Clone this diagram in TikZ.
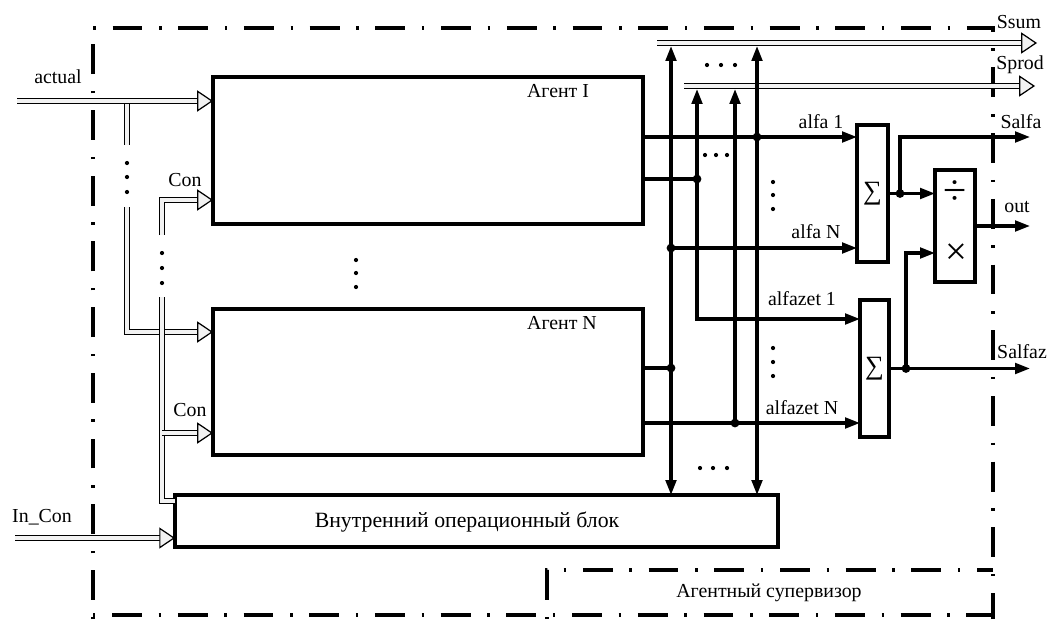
\documentclass[tikz,border=0pt]{standalone}
\usepackage{fontspec}
\setmainfont{Liberation Serif}
\usetikzlibrary{arrows.meta,positioning}

\tikzset{
  >={Triangle[length=8.5pt,width=6pt]},
  blk/.style={draw,line width=1.8pt,inner sep=0pt,outer sep=0pt},
  sig/.style={line width=1.8pt},
  bus/.style={line width=0.7pt,double=gray!10,double distance=2.2pt},
  busarr/.style={bus,-{Triangle[open,fill=gray!10,length=9pt,width=12pt,line width=0.7pt]}},
  supframe/.style={line width=2pt,dash pattern=on 1.4pt off 9.5pt on 17pt off 9.5pt},
  lbl/.style={font=\fontsize{11.3}{13}\selectfont}
}

\begin{document}
\begin{tikzpicture}[x=0.02cm,y=-0.02cm]
\useasboundingbox (0,0) rectangle (1050,619);
% frames
\draw[supframe] (93,619) -- (93,28) -- (993,28) -- (993,619);
\draw[supframe] (93,615) -- (993,615);
\draw[supframe] (547,619) -- (547,570) -- (993,570);
\node[lbl] (supname) at (769,593) {Агентный супервизор};

% blocks
\node[blk,minimum width=8.6cm,minimum height=2.94cm] (ag1) at (428,150.5) {};
\node[blk,minimum width=8.6cm,minimum height=2.92cm] (agN) at (428,382) {};
\node[blk,minimum width=12.06cm,minimum height=1.04cm] (iob) at (476.5,521) {};
\node[blk,minimum width=0.62cm,minimum height=2.74cm] (sum1) at (872.5,193.5) {};
\node[blk,minimum width=0.58cm,minimum height=2.74cm] (sum2) at (874.5,368.5) {};
\node[blk,minimum width=0.8cm,minimum height=2.24cm] (dm) at (955,226) {};
\node[lbl] (ag1name) at (558,91) {Агент I};
\node[lbl] (agNname) at (562,323) {Агент N};
\node[font=\fontsize{12.4}{14}\selectfont] (iobname) at (467,522) {Внутренний операционный блок};
\node[font=\fontsize{15}{15}\selectfont] (sig1) at (sum1) {∑};
\node[font=\fontsize{15}{15}\selectfont] (sig2) at (sum2) {∑};
\node[font=\fontsize{24}{24}\selectfont] (divs) at (955,193) {÷};
\node[font=\fontsize{22}{22}\selectfont] (muls) at (956,254) {×};
\fill (356,260) circle (1.2pt);
\fill (356,273) circle (1.2pt);
\fill (356,287) circle (1.2pt);

% inputs
\coordinate (actin) at (17,101);
\coordinate (conin) at (15,538);
\draw[bus] (127,103) -- (127,145);
\draw[busarr] (actin) -- (ag1.west |- actin);
\fill (127,163) circle (1.2pt);
\fill (127,177) circle (1.2pt);
\fill (127,192) circle (1.2pt);
\coordinate (b1) at (127,332);
\draw[busarr] (127,207) -- (b1) -- (agN.west |- b1);
\coordinate (c1) at (162,200);
\draw[busarr] (162,235) -- (c1) -- (ag1.west |- c1);
\fill (162,253) circle (1.2pt);
\fill (162,268) circle (1.2pt);
\fill (162,283) circle (1.2pt);
\coordinate (c2) at (162,433);
\coordinate (c3) at (162,501);
\draw[bus] (162,297) -- (c3) -- (iob.west |- c3);
\draw[busarr] (c2) -- (agN.west |- c2);
\draw[busarr] (conin) -- (iob.west |- conin);
\node[lbl] (actlbl) at (58,77) {actual};
\node[lbl] (con1lbl) at (185,180) {Con};
\node[lbl] (con2lbl) at (190,410) {Con};
\node[lbl] (inconlbl) at (42,517) {In\_Con};

% output buses
\coordinate (ssumL) at (657,43);
\coordinate (sprodL) at (684,86);
\draw[busarr] (ssumL) -- (1037,43);
\draw[busarr] (sprodL) -- (1035,86);
\node[lbl] (ssumlbl) at (1019,22) {Ssum};
\node[lbl] (sprodlbl) at (1020,65) {Sprod};

% columns and junctions
\coordinate (colA) at (671,46);
\coordinate (colB) at (697,89);
\coordinate (colC) at (735,89);
\coordinate (colD) at (757,46);
\coordinate (jD) at (757,137);
\coordinate (jB) at (697,179);
\coordinate (jA) at (671,248);
\coordinate (jB2) at (697,319);
\coordinate (jA2) at (671,368);
\coordinate (jC) at (735,423);
\draw[sig,<->] (colA) -- (colA |- iob.north);
\draw[sig,<->] (colD) -- (colD |- iob.north);
\draw[sig,<->] (colB) -- (jB2) -- (sum2.west |- jB2);
\draw[sig,->] (jC) -- (colC);
\draw[sig,->] (ag1.east |- jD) -- (sum1.west |- jD);
\draw[sig] (ag1.east |- jB) -- (jB);
\draw[sig,->] (jA) -- (sum1.west |- jA);
\draw[sig] (agN.east |- jA2) -- (jA2);
\draw[sig,->] (agN.east |- jC) -- (sum2.west |- jC);
\fill (jD) circle (2.5pt);
\fill (jB) circle (2.5pt);
\fill (jA) circle (2.5pt);
\fill (jA2) circle (2.5pt);
\fill (jC) circle (2.5pt);
\fill (707,65) circle (1.2pt);
\fill (721,65) circle (1.2pt);
\fill (735,65) circle (1.2pt);
\fill (705,155) circle (1.2pt);
\fill (716,155) circle (1.2pt);
\fill (727,155) circle (1.2pt);
\fill (700,468) circle (1.2pt);
\fill (713,468) circle (1.2pt);
\fill (727,468) circle (1.2pt);
\fill (773,182) circle (1.2pt);
\fill (773,195) circle (1.2pt);
\fill (773,209) circle (1.2pt);
\fill (773,348) circle (1.2pt);
\fill (773,362) circle (1.2pt);
\fill (773,376) circle (1.2pt);
\node[lbl] (a1lbl) at (821,122) {alfa 1};
\node[lbl] (aNlbl) at (816,232) {alfa N};
\node[lbl] (z1lbl) at (802,299) {alfazet 1};
\node[lbl] (zNlbl) at (802,408) {alfazet N};

% sums to outputs
\coordinate (j7) at (900,193.5);
\coordinate (j8) at (906,368.5);
\coordinate (osalfa) at (1030,137);
\coordinate (osalfaz) at (1030,368.5);
\draw[sig,->] (sum1.east) -- (dm.west |- sum1.east);
\draw[sig,->] (j7) |- (osalfa);
\draw[sig,->] (sum2.east) -- (osalfaz);
\draw[sig,->] (j8) |- ([yshift=-0.54cm]dm.west);
\draw[sig,->] (dm.east) -- (dm.east -| osalfa);
\fill (j7) circle (2.5pt);
\fill (j8) circle (2.5pt);
\node[lbl] (salfalbl) at (1021,122) {Salfa};
\node[lbl] (outlbl) at (1017,207) {out};
\node[lbl] (salfazlbl) at (1022,352) {Salfaz};
\end{tikzpicture}
\end{document}
